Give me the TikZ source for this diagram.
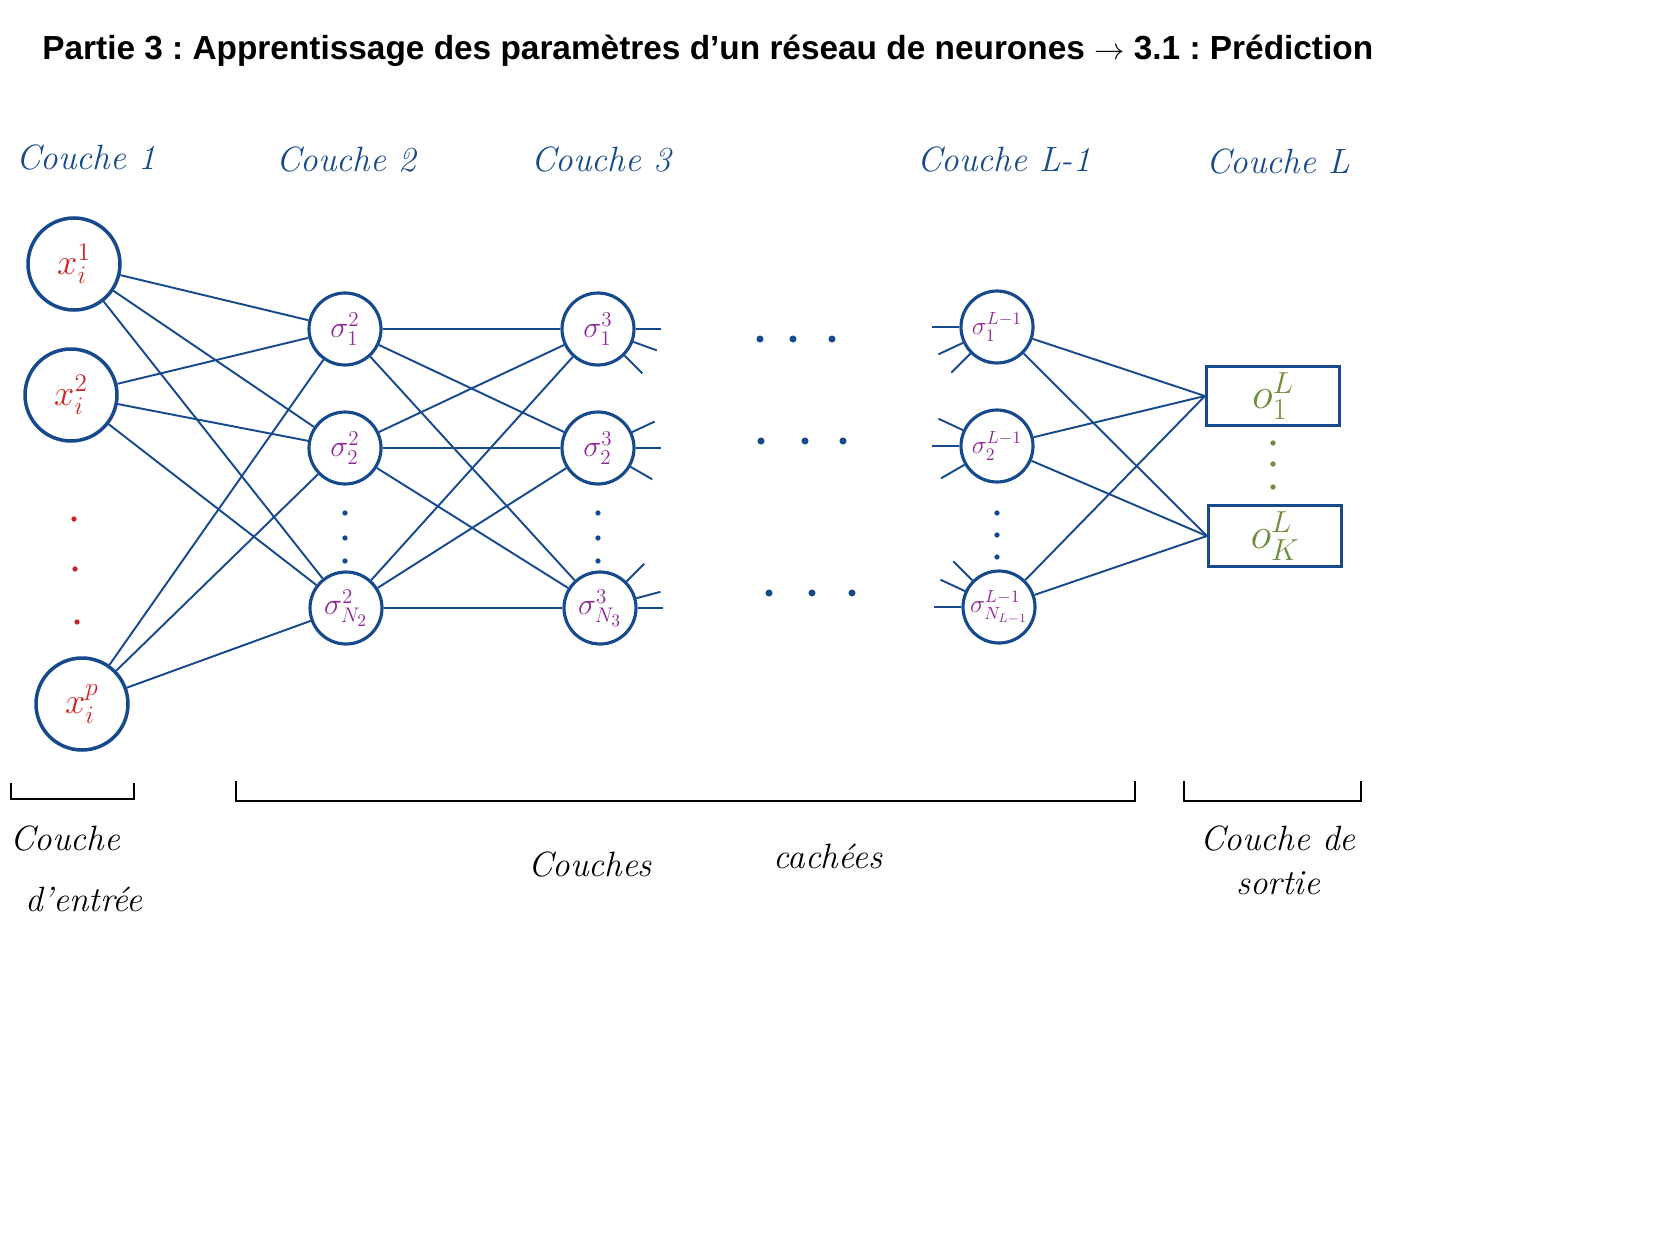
\documentclass[tikz,border=0pt]{standalone}
\usepackage{fontspec}
\usepackage{amsmath}
\usepackage{xcolor}
\newfontfamily\titlefont{Liberation Sans}
\definecolor{inkblue}{RGB}{22,74,140}
\definecolor{inkred}{RGB}{205,35,35}
\definecolor{inkpurple}{RGB}{140,40,150}
\definecolor{inkgreen}{RGB}{110,140,60}
\frenchspacing

\begin{document}
\begin{tikzpicture}[x=0.02cm,y=-0.02cm,
    entree/.style={circle,draw=inkblue,line width=2pt,minimum size=1.84cm,inner sep=0pt,text=inkred,font=\fontsize{22}{24}\selectfont},
    neurone/.style={circle,draw=inkblue,line width=1.8pt,minimum size=1.44cm,inner sep=0pt,text=inkpurple,font=\LARGE},
    sortie/.style={rectangle,draw=inkblue,line width=1.8pt,minimum width=2.66cm,minimum height=1.18cm,text=inkgreen,font=\fontsize{24}{26}\selectfont},
    lien/.style={inkblue,line width=1.1pt},
    couche/.style={text=inkblue,font=\fontsize{20}{24}\selectfont\itshape},
    legende/.style={font=\fontsize{20}{24}\selectfont\itshape},
    ptdot/.style={circle,fill=#1,inner sep=0pt,minimum size=3pt}]
    \useasboundingbox (0,0) rectangle (1653,1240);

    \node[anchor=base west,inner sep=0pt,font=\titlefont\bfseries\fontsize{19}{22}\selectfont] (titre) at (42,60)
        {Partie 3 : Apprentissage des paramètres d’un réseau de neurones $\rightarrow$ 3.1 : Prédiction};

    % noms des couches
    \node[couche] (c1) at (86,158) {Couche 1};
    \node[couche] (c2) at (346,160) {Couche 2};
    \node[couche] (c3) at (601,160) {Couche 3};
    \node[couche] (cL1) at (1004,160) {Couche L-1};
    \node[couche] (cL) at (1278,162) {Couche L};

    % couche d'entree
    \node[entree] (x1) at (74,264) {$x_i^1$};
    \node[entree] (x2) at (71,395) {$x_i^2$};
    \node[entree] (xp) at (82,704) {$x_i^p$};
    \node[ptdot=inkred] (dx1) at (74,519) {};
    \node[ptdot=inkred] (dx2) at (75,569) {};
    \node[ptdot=inkred] (dx3) at (77,622) {};

    % couche 2
    \node[neurone] (s21) at (345,329) {$\sigma^2_1$};
    \node[neurone] (s22) at (345,448) {$\sigma^2_2$};
    \node[neurone] (s2N) at (346,608) {$\sigma^2_{N_2}$};
    \foreach \y [count=\i] in {513,538,561}
        \node[ptdot=inkblue] (d2\i) at (345,\y) {};

    % couche 3
    \node[neurone] (s31) at (598,329) {$\sigma^3_1$};
    \node[neurone] (s32) at (598,448) {$\sigma^3_2$};
    \node[neurone] (s3N) at (600,608) {$\sigma^3_{N_3}$};
    \foreach \y [count=\i] in {513,538,561}
        \node[ptdot=inkblue] (d3\i) at (598,\y) {};

    % couche L-1
    \node[neurone,font=\Large] (sL1) at (997,327) {$\sigma^{L-1}_1$};
    \node[neurone,font=\Large] (sL2) at (997,446) {$\sigma^{L-1}_2$};
    \node[neurone,font=\Large] (sLN) at (999,607) {$\sigma^{L-1}_{N_{L-1}}$};
    \foreach \y [count=\i] in {513,535,557}
        \node[ptdot=inkblue] (dL\i) at (997,\y) {};

    % couche de sortie
    \node[sortie] (o1) at (1273,396) {$o^L_1$};
    \node[sortie] (oK) at (1275,536) {$o^L_K$};
    \foreach \y [count=\i] in {443,464,487}
        \node[ptdot=inkgreen] (do\i) at (1273,\y) {};

    % points du milieu
    \foreach \x/\y [count=\i] in {760/339,793/339,832/339,761/441,805/441,843/441,769/593,812/593,852/593}
        \node[ptdot=inkblue,minimum size=4pt] (m\i) at (\x,\y) {};

    % connexions
    \foreach \a in {x1,x2,xp}
        \foreach \b in {s21,s22,s2N}
            \draw[lien] (\a) -- (\b);
    \foreach \a in {s21,s22,s2N}
        \foreach \b in {s31,s32,s3N}
            \draw[lien] (\a) -- (\b);
    \foreach \a in {sL1,sL2,sLN}
        \foreach \b in {o1,oK}
            \draw[lien] (\a) -- (\b.west);

    % amorces vers les couches suivantes / precedentes
    \foreach \n/\p/\q/\r in {s31/0/-20/-45,s32/25/0/-30,s3N/45/15/0}
        \foreach \ang in {\p,\q,\r}
            \draw[lien] (\n.\ang) -- ++({cos(\ang)*25},{-sin(\ang)*25});
    \foreach \n/\p/\q/\r in {sL1/180/205/225,sL2/155/180/210,sLN/135/155/180}
        \foreach \ang in {\p,\q,\r}
            \draw[lien] (\n.\ang) -- ++({cos(\ang)*27},{-sin(\ang)*27});

    % accolades du bas
    \draw[line width=1.1pt] (11,783) -- (11,799) -- (134,799) -- (134,783);
    \draw[line width=1.1pt] (236,781) -- (236,801) -- (1135,801) -- (1135,781);
    \draw[line width=1.1pt] (1184,781) -- (1184,801) -- (1361,801) -- (1361,781);

    \node[legende] (le1) at (65,838) {Couche};
    \node[legende] (le2) at (84,899) {d’entrée};
    \node[legende] (lc1) at (590,864) {Couches};
    \node[legende] (lc2) at (828,856) {cachées};
    \node[legende] (ls1) at (1278,838) {Couche de};
    \node[legende] (ls2) at (1278,883) {sortie};
\end{tikzpicture}
\end{document}
